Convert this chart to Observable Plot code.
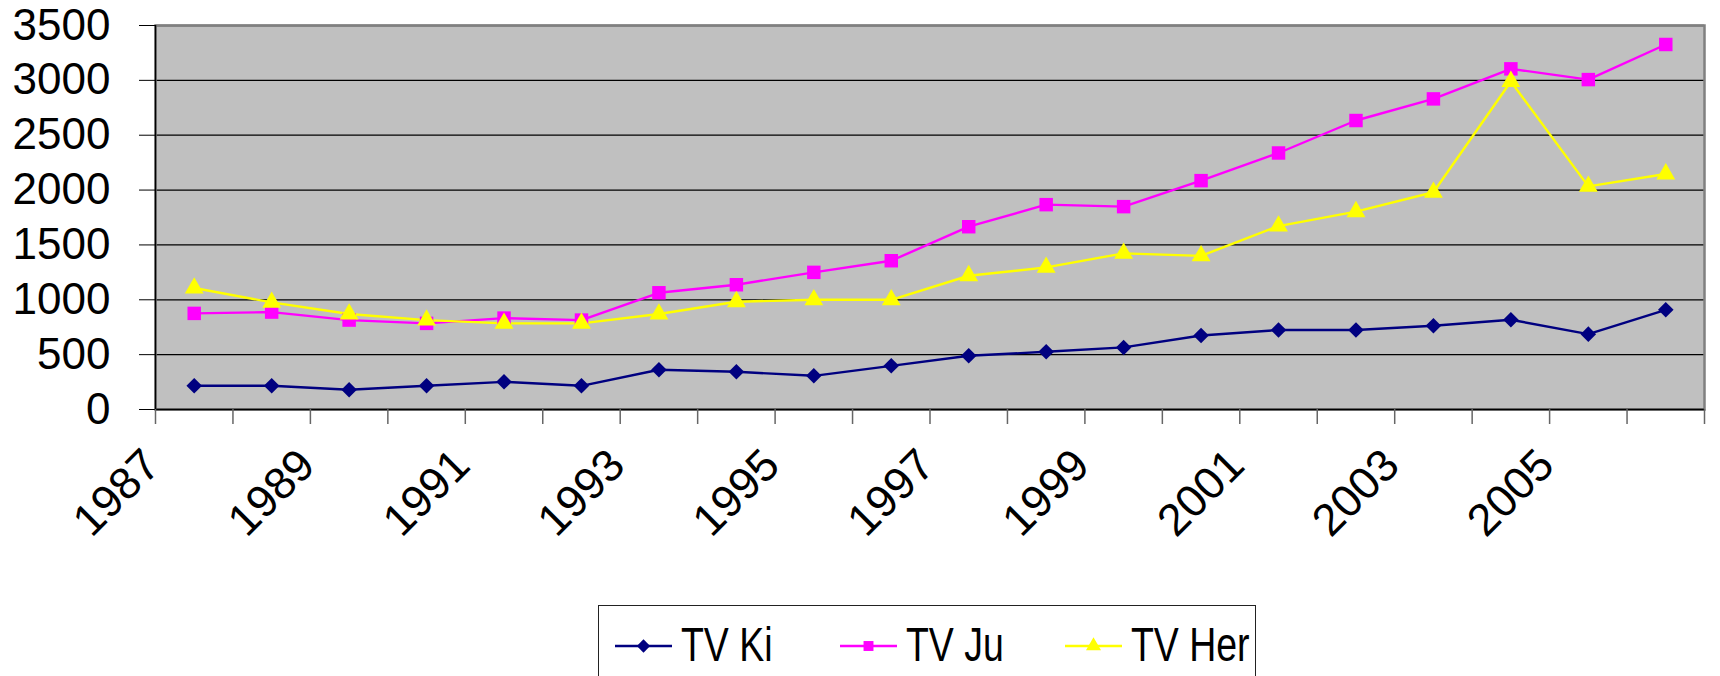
<!DOCTYPE html>
<html>
<head>
<meta charset="utf-8">
<script src="https://cdn.jsdelivr.net/npm/d3@7"></script>
<script src="https://cdn.jsdelivr.net/npm/@observablehq/plot@0.6"></script>
<style>
  html, body { margin: 0; padding: 0; background: #fff; overflow: hidden; width: 1720px; height: 676px; }
  #chart { position: absolute; left: 0; top: 0; }
  #chart svg { display: block; }
  #legend { position: absolute; left: 598px; top: 605px; width: 658px; height: 90px; box-sizing: border-box;
            border: 1.5px solid #222; background: #fff; font-family: "Liberation Sans", Arial, sans-serif; }
  .sw { position: absolute; top: 30px; }
  .lt { position: absolute; top: 15px; font-size: 48px; line-height: 48px; color: #000; white-space: nowrap;
        transform: scaleX(0.78); transform-origin: left center; }
</style>
</head>
<body>
<div id="chart"></div>
<div id="legend"></div>
<script>
// ---- data ----
const years = [1987, 1988, 1989, 1990, 1991, 1992, 1993, 1994, 1995, 1996,
               1997, 1998, 1999, 2000, 2001, 2002, 2003, 2004, 2005, 2006];
const seriesNames = ["TV Ki", "TV Ju", "TV Her"];
const kiValues  = [216, 216, 180, 216, 252, 216, 362, 344, 307, 398, 490, 526, 566, 675, 724, 724, 763, 818, 687, 909];
const juValues  = [876, 888, 815, 785, 833, 815, 1064, 1137, 1250, 1356, 1666, 1867, 1849, 2086, 2338, 2634, 2831, 3105, 3007, 3327];
const herValues = [1107, 976, 870, 815, 785, 785, 870, 982, 1000, 1000, 1219, 1295, 1423, 1400, 1672, 1803, 1980, 2990, 2034, 2147];
const yTicks = [0, 500, 1000, 1500, 2000, 2500, 3000, 3500];
const labelYears = [1987, 1989, 1991, 1993, 1995, 1997, 1999, 2001, 2003, 2005];

// category boundaries (Excel category axis ticks between categories)
const boundaries = years.map(y => y - 0.5).concat([years[years.length - 1] + 0.5]);

const rows = (vals) => years.map((year, i) => ({year, value: vals[i]}));
const kiRows = rows(kiValues), juRows = rows(juValues), herRows = rows(herValues);

const colKi = "#000080", colJu = "#FF00FF", colHer = "#FFFF00";

const chart = Plot.plot({
  width: 1720,
  height: 600,
  marginLeft: 155,
  marginRight: 16,
  marginTop: 25,
  marginBottom: 191,
  x: {type: "linear", domain: [boundaries[0], boundaries[boundaries.length - 1]]},
  y: {domain: [0, 3500]},
  style: {fontFamily: "'Liberation Sans', Arial, sans-serif", background: "white", color: "#000", overflow: "visible"},
  marks: [
    Plot.frame({fill: "#C0C0C0", stroke: null}),
    Plot.gridY(yTicks, {stroke: "#000", strokeOpacity: 1, strokeWidth: 1.3}),
    Plot.frame({stroke: "#808080", strokeWidth: 2.5}),
    Plot.ruleX([boundaries[0]], {stroke: "#000", strokeWidth: 1.5}),
    Plot.ruleY([0], {stroke: "#000", strokeWidth: 1.5}),
    Plot.axisY(yTicks, {tickSize: 16, tickPadding: 29, fontSize: 44, stroke: "#000", label: null, tickFormat: d => String(d)}),
    Plot.axisX(boundaries, {tickSize: 15, tickFormat: () => "", stroke: "#666", strokeWidth: 1.5, label: null}),
    Plot.text(labelYears, {x: d => d, text: d => String(d), frameAnchor: "bottom", dy: 48, dx: -42,
      rotate: -45, textAnchor: "end", lineAnchor: "middle", fontSize: 45, fill: "#000"}),
    Plot.line(kiRows, {x: "year", y: "value", stroke: colKi, strokeWidth: 2.4}),
    Plot.line(juRows, {x: "year", y: "value", stroke: colJu, strokeWidth: 2.4}),
    Plot.line(herRows, {x: "year", y: "value", stroke: colHer, strokeWidth: 2.4}),
    Plot.dot(kiRows, {x: "year", y: "value", symbol: "diamond2", r: 7, fill: colKi, stroke: "none"}),
    Plot.dot(juRows, {x: "year", y: "value", symbol: "square", r: 7.6, fill: colJu, stroke: "none"}),
    Plot.dot(herRows, {x: "year", y: "value", symbol: "triangle", r: 7, fill: colHer, stroke: "none"})
  ]
});
document.getElementById("chart").appendChild(chart);

// ---- legend ----
const legend = document.getElementById("legend");
const items = [
  {name: seriesNames[0], color: colKi, sym: d3.symbolDiamond2, size: Math.PI * 6 * 6, sx: 16, tx: 82},
  {name: seriesNames[1], color: colJu, sym: d3.symbolSquare, size: Math.PI * 5.6 * 5.6, sx: 241, tx: 307},
  {name: seriesNames[2], color: colHer, sym: d3.symbolTriangle, size: Math.PI * 5.6 * 5.6, sx: 466, tx: 532}
];
for (const it of items) {
  const svg = d3.create("svg").attr("class", "sw").attr("width", 57).attr("height", 20)
    .style("left", it.sx + "px");
  svg.append("line").attr("x1", 0).attr("x2", 57).attr("y1", 10).attr("y2", 10)
    .attr("stroke", it.color).attr("stroke-width", 2.4);
  svg.append("path").attr("transform", "translate(28.5,10)")
    .attr("d", d3.symbol(it.sym, it.size)()).attr("fill", it.color);
  legend.appendChild(svg.node());
  const t = document.createElement("div");
  t.className = "lt";
  t.style.left = it.tx + "px";
  t.textContent = it.name;
  legend.appendChild(t);
}
</script>
</body>
</html>
